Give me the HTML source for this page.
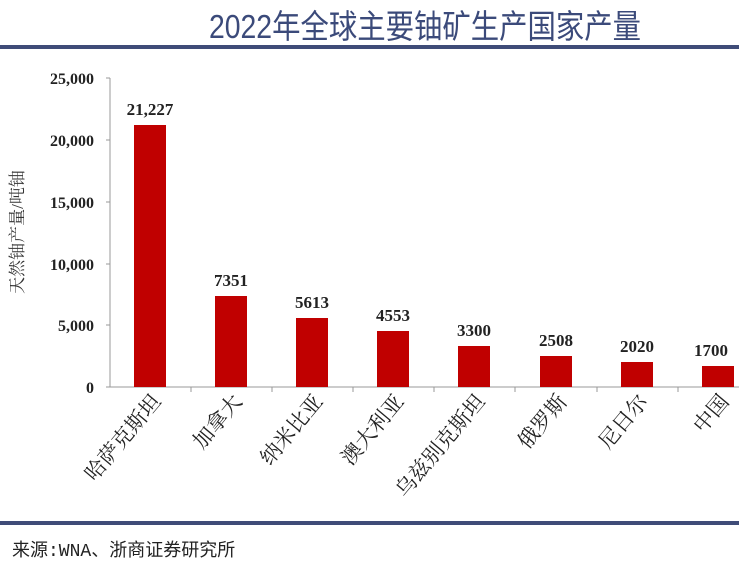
<!DOCTYPE html><html><head><meta charset="utf-8"><style>
body{margin:0;width:739px;height:567px;background:#fff;overflow:hidden;position:relative;font-family:"Liberation Serif","Noto Serif CJK SC",serif}
.t{position:absolute;left:125px;width:600px;top:0px;text-align:center;font:33px "Liberation Sans","Noto Sans CJK SC",sans-serif;color:#3b4a7a;transform:scaleX(0.86);transform-origin:300px 0;}
</style></head><body>
<div class="t">2022年全球主要铀矿生产国家产量</div>
<div style="position:absolute;left:0;top:45px;width:739px;height:4px;background:#3f4c78"></div>
<div style="position:absolute;left:0;top:521px;width:739px;height:4px;background:#3f4c78"></div>
<div style="position:absolute;left:12px;top:536px;font:18px 'Liberation Mono','Noto Sans CJK SC',sans-serif;color:#222">来源:WNA、浙商证券研究所</div>
<svg width="739" height="567" style="position:absolute;left:0;top:0">
<g font-family="Liberation Serif" font-weight="bold" font-size="16" fill="#222" text-anchor="end">
<text x="94" y="84">25,000</text><text x="94" y="146">20,000</text><text x="94" y="208">15,000</text><text x="94" y="270">10,000</text><text x="94" y="331">5,000</text><text x="94" y="393">0</text></g>
<line x1="110" y1="78" x2="110" y2="387" stroke="#999"/>
<line x1="110" y1="387" x2="739" y2="387" stroke="#999"/>
<g stroke="#999"><line x1="106" y1="78" x2="110" y2="78"/><line x1="106" y1="140" x2="110" y2="140"/><line x1="106" y1="202" x2="110" y2="202"/><line x1="106" y1="264" x2="110" y2="264"/><line x1="106" y1="325" x2="110" y2="325"/><line x1="106" y1="387" x2="110" y2="387"/>
<line x1="191" y1="387" x2="191" y2="392"/><line x1="272" y1="387" x2="272" y2="392"/><line x1="353" y1="387" x2="353" y2="392"/><line x1="434" y1="387" x2="434" y2="392"/><line x1="515" y1="387" x2="515" y2="392"/><line x1="597" y1="387" x2="597" y2="392"/><line x1="678" y1="387" x2="678" y2="392"/></g>
<g fill="#c00000">
<rect x="134" y="125" width="32" height="262"/><rect x="215" y="296" width="32" height="91"/><rect x="296" y="318" width="32" height="69"/><rect x="377" y="331" width="32" height="56"/><rect x="458" y="346" width="32" height="41"/><rect x="540" y="356" width="32" height="31"/><rect x="621" y="362" width="32" height="25"/><rect x="702" y="366" width="32" height="21"/></g>
<g font-family="Liberation Serif" font-weight="bold" font-size="17" fill="#222" text-anchor="middle">
<text x="150" y="115">21,227</text><text x="231" y="286">7351</text><text x="312" y="308">5613</text><text x="393" y="321">4553</text><text x="474" y="336">3300</text><text x="556" y="346">2508</text><text x="637" y="352">2020</text><text x="711" y="356">1700</text></g>
<g font-family="Liberation Serif,Noto Serif CJK SC,serif" font-size="21" fill="#222" text-anchor="end">
<text transform="translate(162,402) rotate(-50)">哈萨克斯坦</text>
<text transform="translate(243,402) rotate(-50)">加拿大</text>
<text transform="translate(324,402) rotate(-50)">纳米比亚</text>
<text transform="translate(405,402) rotate(-50)">澳大利亚</text>
<text transform="translate(486,402) rotate(-50)">乌兹别克斯坦</text>
<text transform="translate(568,402) rotate(-50)">俄罗斯</text>
<text transform="translate(649,402) rotate(-50)">尼日尔</text>
<text transform="translate(730,402) rotate(-50)">中国</text></g>
<text transform="translate(23,232) rotate(-90)" text-anchor="middle" font-family="Liberation Serif,Noto Serif CJK SC,serif" font-size="17" fill="#333">天然铀产量/吨铀</text>
</svg>
</body></html>
